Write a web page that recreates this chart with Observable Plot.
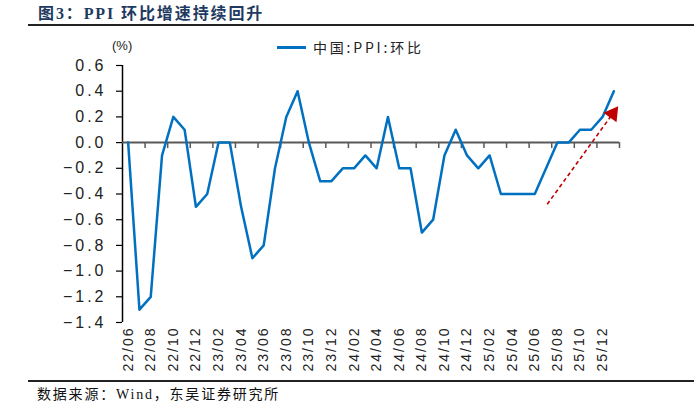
<!DOCTYPE html>
<html><head><meta charset="utf-8">
<script src="https://cdn.jsdelivr.net/npm/d3@7"></script>
<script src="https://cdn.jsdelivr.net/npm/@observablehq/plot@0.6"></script>
<style>
body{margin:0;background:#fff;width:694px;height:414px;position:relative;overflow:hidden;font-family:"Liberation Sans","Noto Sans CJK SC",sans-serif;}
#title{position:absolute;left:38px;top:0px;font:bold 16px "Liberation Serif","Noto Sans CJK SC",serif;color:#1f3a60;letter-spacing:1.9px;}
#topline{position:absolute;left:28px;right:0;top:24px;border-top:2px solid #222;}
#chart{position:absolute;left:0;top:30px;}
#botline{position:absolute;left:28px;right:0;top:380px;border-top:2px solid #222;}
#source{position:absolute;left:37px;top:383px;font:14px "Liberation Serif","Noto Sans CJK SC",serif;color:#111;letter-spacing:1.8px;}
#unit{position:absolute;left:112px;top:38px;font:13px "Liberation Sans",sans-serif;color:#222;}
#legend{position:absolute;left:277px;top:37px;font:14px "Noto Sans CJK SC",sans-serif;color:#222;letter-spacing:2.8px;display:flex;align-items:center;}
#legend span.sw{display:inline-block;width:29px;height:3px;background:#0070c0;margin-right:7px;}
</style></head>
<body>
<div id="title">图3：PPI 环比增速持续回升</div>
<div id="topline"></div>
<div id="chart"></div>
<div id="unit">(%)</div>
<div id="legend"><span class="sw"></span>中国:PPI:环比</div>
<div id="botline"></div>
<div id="source">数据来源：Wind，东吴证券研究所</div>
<script>
const months = ["22/06","22/07","22/08","22/09","22/10","22/11","22/12",
  "23/01","23/02","23/03","23/04","23/05","23/06","23/07","23/08","23/09","23/10","23/11","23/12",
  "24/01","24/02","24/03","24/04","24/05","24/06","24/07","24/08","24/09","24/10","24/11","24/12",
  "25/01","25/02","25/03","25/04","25/05","25/06","25/07","25/08","25/09","25/10","25/11","25/12",
  "26/01"];
const ppiMoM = [0.0,-1.3,-1.2,-0.1,0.2,0.1,-0.5,
  -0.4,0.0,0.0,-0.5,-0.9,-0.8,-0.2,0.2,0.4,0.0,-0.3,-0.3,
  -0.2,-0.2,-0.1,-0.2,0.2,-0.2,-0.2,-0.7,-0.6,-0.1,0.1,-0.1,
  -0.2,-0.1,-0.4,-0.4,-0.4,-0.4,-0.2,0.0,0.0,0.1,0.1,0.2,
  0.4];
const yTicks = [0.6,0.4,0.2,0.0,-0.2,-0.4,-0.6,-0.8,-1.0,-1.2,-1.4];
// trend arrow annotation in data units (month index, %)
const trendArrow = [{x1:37.1, y1:-0.48, x2:42.9, y2:0.225, angle:36}];

const idx = months.map((m,i)=>i);
const labelIdx = idx.filter(i => i % 2 === 0 && months[i] !== "26/01");
const boundaryIdx = idx.filter(i => i % 2 === 1).map(i => i + 0.5);

const chart = Plot.plot({
  width: 694, height: 350,
  marginLeft: 122, marginRight: 75, marginTop: 35, marginBottom: 58,
  x: {type:"linear", domain:[-0.5, months.length - 0.5], axis:null},
  y: {domain:[-1.4, 0.6], axis:null},
  style: {fontFamily:"Liberation Sans, sans-serif", background:"transparent"},
  marks: [
    Plot.ruleX([-0.5], {y1:-1.4, y2:0.6, stroke:"#000", strokeWidth:1.5}),
    Plot.ruleY(yTicks, {x1:-0.5, x2:-0.5, insetLeft:-6, stroke:"#000", strokeWidth:1.2}),
    Plot.text(yTicks, {x:-0.5, y:d=>d, text:d=>d.toFixed(1).replace("-", "\u2212"), textAnchor:"end", dx:-16, fontSize:16, fill:"#222"}),
    Plot.ruleY([0], {stroke:"#595959", strokeWidth:2}),
    Plot.ruleX(boundaryIdx, {x:d=>d, y1:0, y2:0, insetBottom:-6, stroke:"#595959", strokeWidth:1.5}),
    Plot.text(labelIdx, {x:d=>d, text:d=>months[d], frameAnchor:"bottom", rotate:-90, textAnchor:"end", lineAnchor:"middle", dy:4, fontSize:14, fill:"#222"}),
    Plot.line(ppiMoM, {x:(d,i)=>i, y:d=>d, stroke:"#0070c0", strokeWidth:2.5}),
    Plot.link(trendArrow, {x1:"x1", y1:"y1", x2:"x2", y2:"y2", stroke:"#c00000", strokeWidth:1.6, strokeDasharray:"4,3"}),
    Plot.dot(trendArrow, {x:"x2", y:"y2", symbol:"triangle", r:6, fill:"#c00000", stroke:"none", rotate:"angle"})
  ]
});
d3.select(chart).selectAll("text").each(function(){
  const t = this.textContent;
  if (t.includes("/")) this.style.letterSpacing = "2px";
  else if (t.includes(".")) this.style.letterSpacing = "3px";
});
document.getElementById("chart").appendChild(chart);
</script>
</body></html>
